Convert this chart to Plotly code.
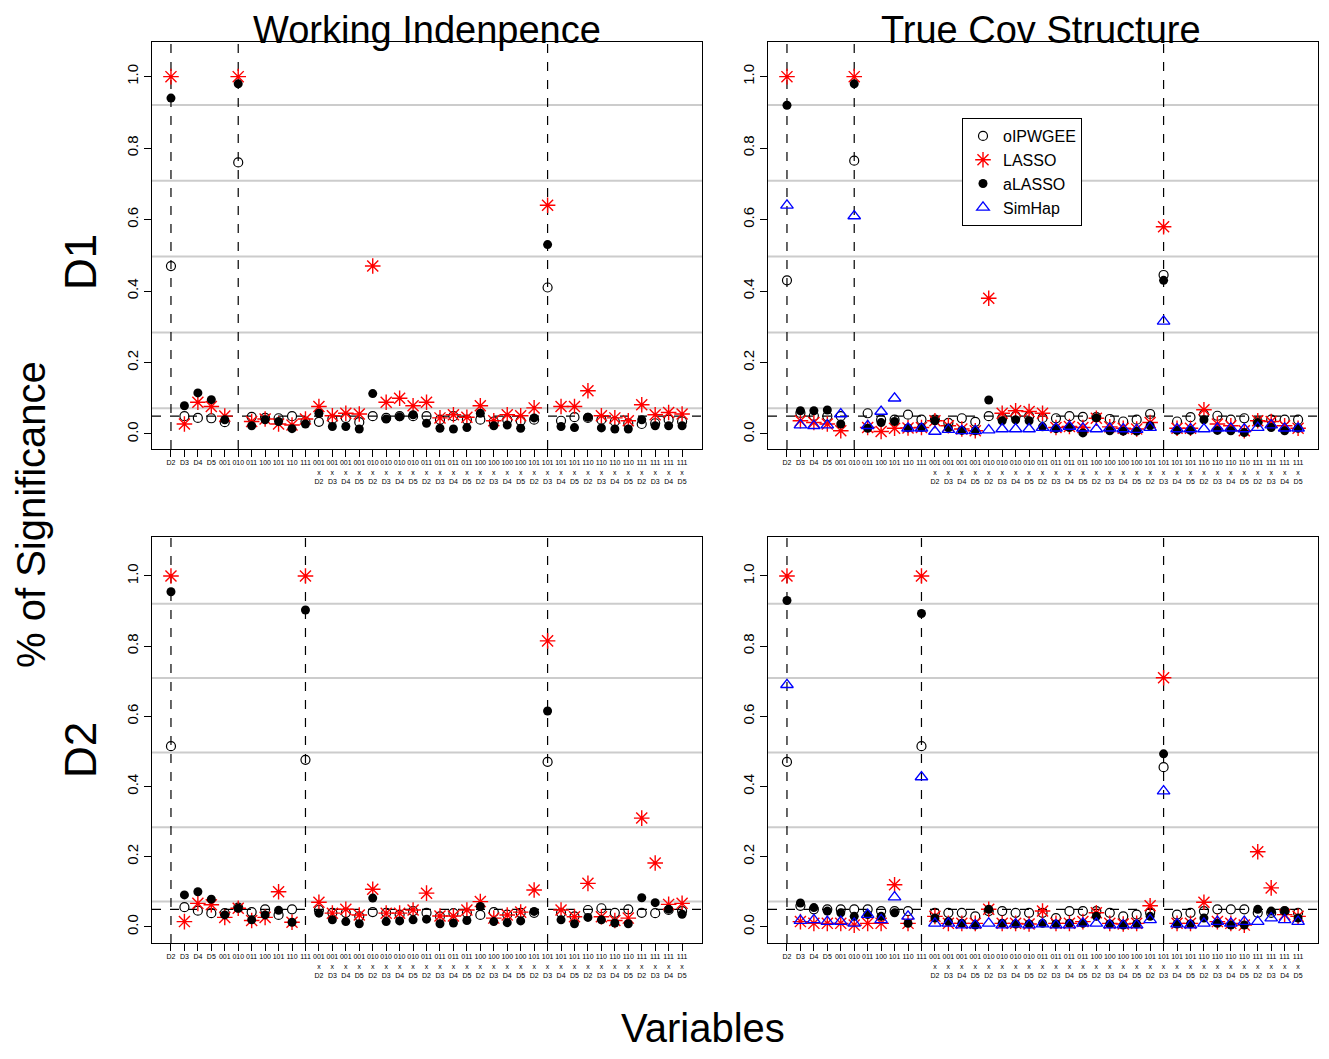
import plotly.graph_objects as go

# page body has an 8px margin, so the figure is sized to fit inside the window
PAD = 8
W, H = 1329 - 2 * PAD, 1059 - 2 * PAD

# x categories: main effects then haplotype x covariate interactions
main_terms = ["D2", "D3", "D4", "D5", "001", "010", "011", "100", "101", "110", "111"]
haplos = ["001", "010", "011", "100", "101", "110", "111"]
covars = ["D2", "D3", "D4", "D5"]
categories = main_terms + [h + "x" + d for h in haplos for d in covars]
tick_text = main_terms + [h + "<br>x<br>" + d for h in haplos for d in covars]

# true effects (vertical dashed lines)
true_d1 = ["D2", "010", "101xD3"]
true_d2 = ["D2", "111", "101xD3"]

# Working independence, D1
wi_d1_oipw = [0.47, 0.05, 0.045, 0.044, 0.033, 0.76, 0.048, 0.045, 0.044, 0.05, 0.035,
              0.034, 0.042, 0.045, 0.033, 0.05, 0.045, 0.05, 0.05, 0.05, 0.04, 0.05, 0.04,
              0.04, 0.035, 0.04, 0.037, 0.04, 0.41, 0.037, 0.047, 0.045, 0.04, 0.035, 0.03,
              0.028, 0.03, 0.04, 0.035]
wi_d1_lasso = [1.0, 0.028, 0.089, 0.077, 0.05, 1.0, 0.035, 0.042, 0.028, 0.025, 0.042,
               0.077, 0.051, 0.058, 0.056, 0.47, 0.089, 0.10, 0.079, 0.089, 0.045, 0.054, 0.047,
               0.079, 0.037, 0.054, 0.051, 0.073, 0.64, 0.077, 0.077, 0.121, 0.051, 0.045, 0.037,
               0.082, 0.054, 0.06, 0.056]
wi_d1_alasso = [0.94, 0.079, 0.115, 0.096, 0.04, 0.98, 0.023, 0.04, 0.035, 0.015, 0.028,
                0.058, 0.021, 0.021, 0.014, 0.113, 0.042, 0.048, 0.054, 0.03, 0.016, 0.014, 0.018,
                0.058, 0.023, 0.025, 0.016, 0.045, 0.53, 0.021, 0.018, 0.047, 0.017, 0.014, 0.014,
                0.04, 0.023, 0.023, 0.023]

# True covariance structure, D1
tc_d1_oipw = [0.43, 0.059, 0.051, 0.05, 0.05, 0.765, 0.058, 0.04, 0.04, 0.054, 0.04,
              0.04, 0.031, 0.044, 0.034, 0.05, 0.045, 0.05, 0.05, 0.045, 0.044, 0.05, 0.048,
              0.047, 0.042, 0.035, 0.04, 0.056, 0.445, 0.035, 0.047, 0.055, 0.051, 0.04, 0.044,
              0.035, 0.04, 0.04, 0.04]
tc_d1_lasso = [1.0, 0.037, 0.032, 0.028, 0.009, 1.0, 0.018, 0.007, 0.016, 0.017, 0.018,
               0.037, 0.023, 0.014, 0.009, 0.38, 0.058, 0.065, 0.063, 0.058, 0.018, 0.021, 0.018,
               0.044, 0.02, 0.016, 0.014, 0.032, 0.58, 0.016, 0.016, 0.068, 0.028, 0.023, 0.009,
               0.037, 0.035, 0.023, 0.016]
tc_d1_alasso = [0.92, 0.065, 0.065, 0.067, 0.028, 0.98, 0.016, 0.032, 0.035, 0.017, 0.018,
                0.037, 0.017, 0.01, 0.009, 0.095, 0.037, 0.04, 0.037, 0.02, 0.015, 0.018, 0.003,
                0.045, 0.009, 0.008, 0.008, 0.023, 0.43, 0.01, 0.01, 0.04, 0.01, 0.009, 0.004,
                0.032, 0.018, 0.009, 0.016]
tc_d1_simhap = [0.64, 0.025, 0.023, 0.025, 0.056, 0.61, 0.023, 0.063, 0.1, 0.016, 0.016,
                0.007, 0.012, 0.009, 0.009, 0.011, 0.014, 0.014, 0.014, 0.018, 0.016, 0.021, 0.016,
                0.014, 0.016, 0.014, 0.012, 0.018, 0.315, 0.014, 0.014, 0.014, 0.016, 0.016, 0.014,
                0.018, 0.025, 0.016, 0.016]

# Working independence, D2
wi_d2_oipw = [0.515, 0.056, 0.046, 0.039, 0.039, 0.055, 0.042, 0.05, 0.034, 0.05, 0.476,
              0.048, 0.04, 0.04, 0.03, 0.042, 0.04, 0.035, 0.045, 0.04, 0.03, 0.039, 0.04,
              0.034, 0.042, 0.035, 0.04, 0.04, 0.47, 0.04, 0.03, 0.048, 0.053, 0.04, 0.05,
              0.04, 0.039, 0.048, 0.045]
wi_d2_lasso = [1.0, 0.015, 0.067, 0.063, 0.027, 0.053, 0.018, 0.027, 0.1, 0.013, 1.0,
               0.07, 0.039, 0.05, 0.034, 0.107, 0.039, 0.039, 0.048, 0.096, 0.031, 0.031, 0.048,
               0.072, 0.025, 0.034, 0.042, 0.105, 0.815, 0.048, 0.029, 0.124, 0.029, 0.018, 0.025,
               0.31, 0.182, 0.064, 0.067]
wi_d2_alasso = [0.955, 0.091, 0.1, 0.079, 0.034, 0.053, 0.02, 0.034, 0.047, 0.013, 0.903,
                0.039, 0.02, 0.015, 0.009, 0.082, 0.015, 0.017, 0.02, 0.022, 0.009, 0.011, 0.018,
                0.058, 0.015, 0.012, 0.017, 0.044, 0.615, 0.02, 0.009, 0.027, 0.02, 0.011, 0.009,
                0.083, 0.069, 0.05, 0.036]

# True covariance structure, D2
tc_d2_oipw = [0.47, 0.06, 0.05, 0.05, 0.05, 0.05, 0.05, 0.045, 0.045, 0.045, 0.515,
              0.04, 0.04, 0.04, 0.03, 0.045, 0.045, 0.04, 0.04, 0.04, 0.025, 0.045, 0.045,
              0.045, 0.04, 0.03, 0.035, 0.04, 0.455, 0.035, 0.04, 0.045, 0.05, 0.05, 0.05,
              0.04, 0.04, 0.045, 0.04]
tc_d2_lasso = [1.0, 0.015, 0.01, 0.01, 0.01, 0.005, 0.01, 0.01, 0.12, 0.01, 1.0,
               0.03, 0.01, 0.01, 0.01, 0.05, 0.01, 0.01, 0.008, 0.045, 0.01, 0.01, 0.015,
               0.04, 0.01, 0.008, 0.01, 0.06, 0.71, 0.01, 0.01, 0.07, 0.015, 0.01, 0.005,
               0.214, 0.111, 0.035, 0.03]
tc_d2_alasso = [0.93, 0.068, 0.055, 0.045, 0.04, 0.03, 0.035, 0.03, 0.04, 0.01, 0.893,
                0.025, 0.015, 0.01, 0.005, 0.05, 0.01, 0.008, 0.008, 0.01, 0.008, 0.01, 0.01,
                0.03, 0.008, 0.005, 0.008, 0.03, 0.493, 0.008, 0.008, 0.025, 0.01, 0.005, 0.005,
                0.05, 0.045, 0.045, 0.025]
tc_d2_simhap = [0.69, 0.018, 0.02, 0.015, 0.015, 0.01, 0.035, 0.02, 0.085, 0.03, 0.427,
                0.01, 0.01, 0.005, 0.005, 0.01, 0.005, 0.008, 0.005, 0.008, 0.005, 0.005, 0.01,
                0.01, 0.005, 0.005, 0.005, 0.02, 0.387, 0.008, 0.005, 0.01, 0.015, 0.01, 0.015,
                0.015, 0.025, 0.02, 0.015]

gray_levels = [0.072, 0.284, 0.497, 0.709, 0.921]
y_ticks = [0.0, 0.2, 0.4, 0.6, 0.8, 1.0]

FONT = "Liberation Sans, Arial, sans-serif"
xpos = list(range(len(categories)))


def px(x):
    return (x - PAD) / W


def py(y):
    return 1 - (y - PAD) / H


styles = {
    "oIPWGEE": dict(symbol="circle-open", size=9, color="black", line=dict(color="black", width=1.2)),
    "LASSO": dict(symbol="asterisk-open", size=13, color="red", line=dict(color="red", width=1.4)),
    "aLASSO": dict(symbol="circle", size=9, color="black", line=dict(color="black", width=0)),
    "SimHap": dict(symbol="triangle-up-open", size=11, color="blue", line=dict(color="blue", width=1.3)),
}

panels = [
    ("x", "y", true_d1, {"oIPWGEE": wi_d1_oipw, "LASSO": wi_d1_lasso, "aLASSO": wi_d1_alasso}, False),
    ("x2", "y2", true_d1, {"oIPWGEE": tc_d1_oipw, "LASSO": tc_d1_lasso, "aLASSO": tc_d1_alasso,
                           "SimHap": tc_d1_simhap}, True),
    ("x3", "y3", true_d2, {"oIPWGEE": wi_d2_oipw, "LASSO": wi_d2_lasso, "aLASSO": wi_d2_alasso}, False),
    ("x4", "y4", true_d2, {"oIPWGEE": tc_d2_oipw, "LASSO": tc_d2_lasso, "aLASSO": tc_d2_alasso,
                           "SimHap": tc_d2_simhap}, False),
]

fig = go.Figure()
shapes = []
for xa, ya, truth, series, show in panels:
    for name, vals in series.items():
        fig.add_trace(go.Scatter(x=xpos, y=vals, mode="markers", name=name, xaxis=xa, yaxis=ya,
                                 marker=styles[name], showlegend=show))
    xd = xa + " domain"
    yd = ya + " domain"
    for g in gray_levels:
        shapes.append(dict(type="line", xref=xd, yref=ya, x0=0, x1=1, y0=g, y1=g,
                           line=dict(color="#cccccc", width=2), layer="below"))
    shapes.append(dict(type="line", xref=xd, yref=ya, x0=0, x1=1, y0=0.05, y1=0.05,
                       line=dict(color="black", width=1.2, dash="dash"), layer="below"))
    for t in truth:
        i = categories.index(t)
        shapes.append(dict(type="line", xref=xa, yref=yd, x0=i, x1=i, y0=0, y1=1,
                           line=dict(color="black", width=1.2, dash="dash"), layer="below"))

# panel boxes in reference pixels: (left, right, top, bottom)
boxes = {"": (152, 702, 42, 449), "2": (768, 1318, 42, 449),
         "3": (152, 702, 537, 943), "4": (768, 1318, 537, 943)}
yranges = {"": [-0.042, 1.097], "2": [-0.042, 1.097], "3": [-0.046, 1.111], "4": [-0.046, 1.111]}

layout = dict(
    width=W, height=H, margin=dict(l=0, r=0, t=0, b=0),
    paper_bgcolor="white", plot_bgcolor="white",
    font=dict(family=FONT, color="black"),
    shapes=shapes,
    legend=dict(x=px(962), y=py(118), xanchor="left", yanchor="top",
                bordercolor="black", borderwidth=1, bgcolor="white",
                font=dict(size=16, family=FONT), tracegroupgap=0, itemwidth=30),
)
for k, (l, r, t, b) in boxes.items():
    layout["xaxis" + k] = dict(
        domain=[px(l), px(r)], range=[-1.41, 39.48], anchor="y" + k,
        tickmode="array", tickvals=xpos, ticktext=tick_text, tickangle=0,
        ticks="outside", ticklen=7, tickcolor="black", tickfont=dict(size=7, family=FONT),
        showgrid=False, zeroline=False, showline=True, linecolor="black", mirror=True, linewidth=1,
    )
    layout["yaxis" + k] = dict(
        domain=[py(b), py(t)], range=yranges[k], anchor="x" + k,
        tickmode="array", tickvals=y_ticks, ticktext=["%.1f" % v for v in y_ticks], tickangle=-90,
        ticks="outside", ticklen=7, tickcolor="black", tickfont=dict(size=15, family=FONT),
        showgrid=False, zeroline=False, showline=True, linecolor="black", mirror=True, linewidth=1,
    )

fig.update_layout(**layout)


def label(text, x, y, size, angle=0, xanchor="center", yanchor="middle"):
    fig.add_annotation(text=text, x=px(x), y=py(y), xref="paper", yref="paper",
                       xanchor=xanchor, yanchor=yanchor, borderpad=0,
                       showarrow=False, textangle=angle, font=dict(size=size, family=FONT))


label("Working Indenpence", 427, PAD, 38, yanchor="top")
label("True Cov Structure", 1041, PAD, 38, yanchor="top")
label("D1", 80, 262, 44, -90)
label("D2", 80, 750, 44, -90)
label("% of Significance", PAD, 515, 40, -90, xanchor="left")
label("Variables", 703, 1059 - PAD, 40, yanchor="bottom")

fig.write_html("out.html")
